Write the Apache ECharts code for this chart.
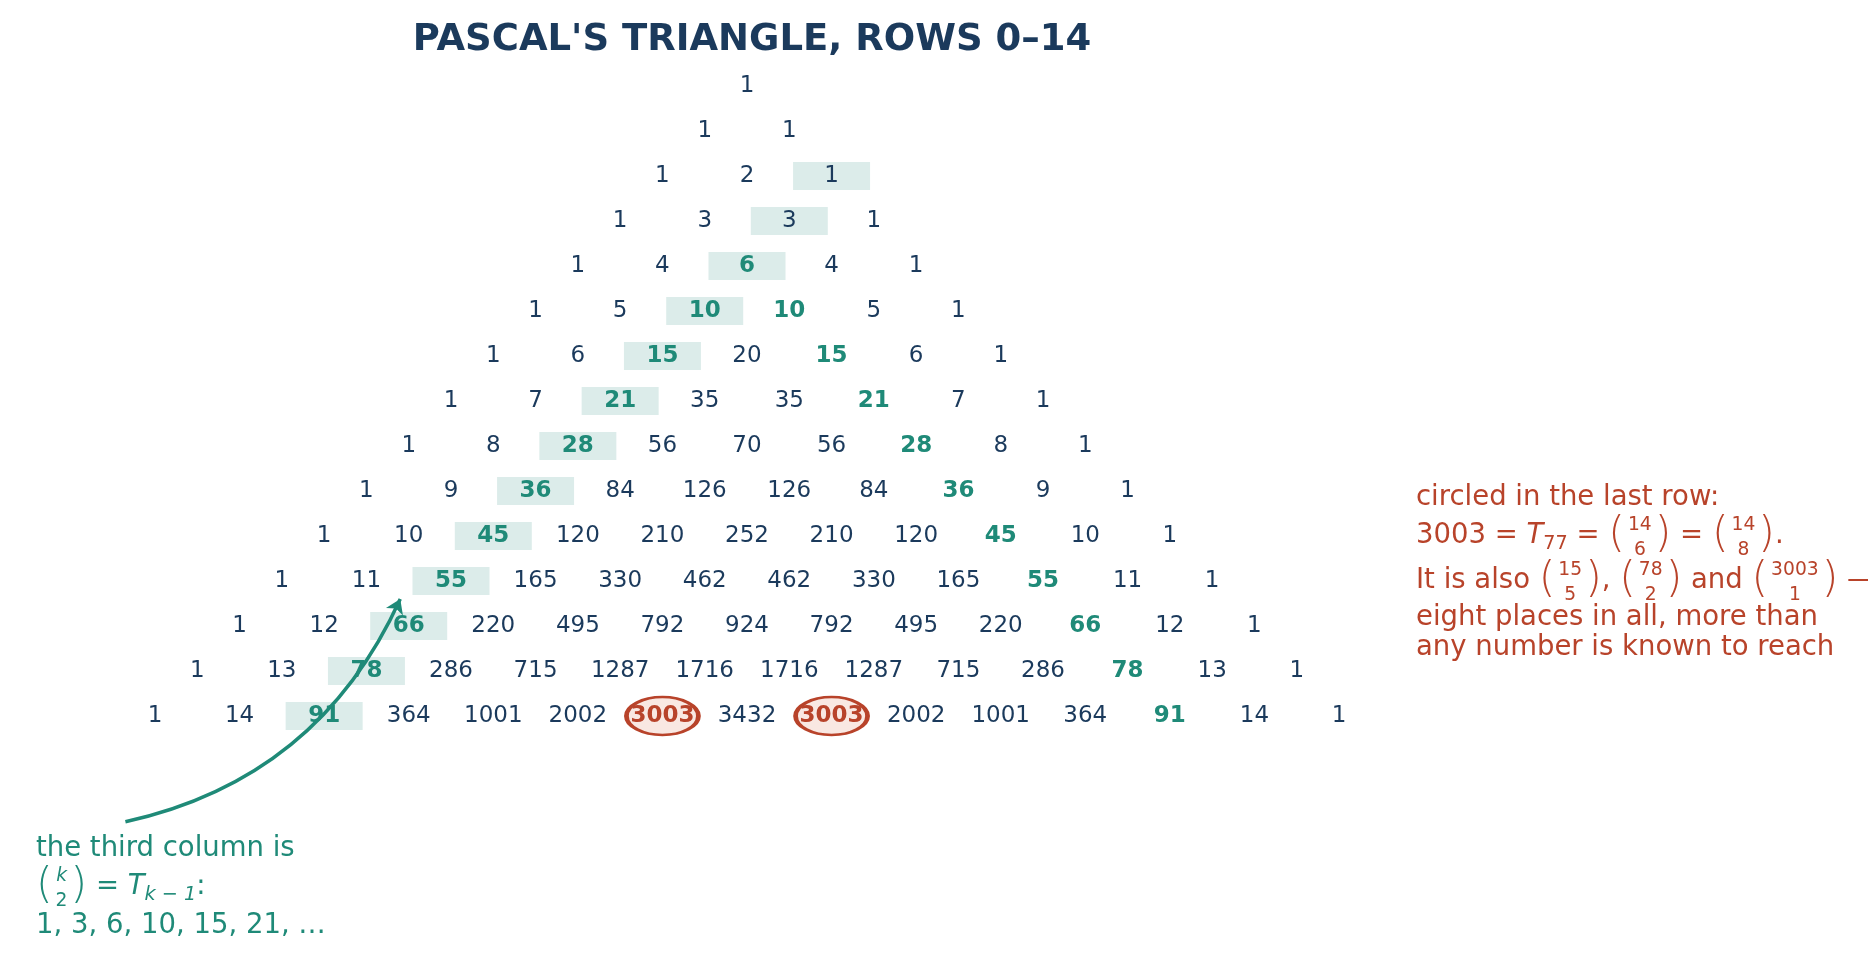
<!DOCTYPE html>
<html><head><meta charset="utf-8">
<script src="https://cdn.jsdelivr.net/npm/echarts@6/dist/echarts.min.js"></script>
<style>html,body{margin:0;padding:0;background:#fff}#c{width:1868px;height:959px}</style>
</head><body><div id="c"></div>
<script>
const rows = [
 [1],[1,1],[1,2,1],[1,3,3,1],[1,4,6,4,1],[1,5,10,10,5,1],[1,6,15,20,15,6,1],
 [1,7,21,35,35,21,7,1],[1,8,28,56,70,56,28,8,1],[1,9,36,84,126,126,84,36,9,1],
 [1,10,45,120,210,252,210,120,45,10,1],[1,11,55,165,330,462,462,330,165,55,11,1],
 [1,12,66,220,495,792,924,792,495,220,66,12,1],
 [1,13,78,286,715,1287,1716,1716,1287,715,286,78,13,1],
 [1,14,91,364,1001,2002,3003,3432,3003,2002,1001,364,91,14,1]
];
const circled = [[14,6],[14,8]];
const navy='#1b3a5c', teal='#1f8a78', red='#b8432a';
const FONT='DejaVu Sans';

const textData=[], boxData=[], ellData=[];
rows.forEach((row,r)=>row.forEach((v,j)=>{
  const x=2*j-r;
  let st='n';
  if (circled.some(c=>c[0]===r&&c[1]===j)) st='c';
  else if (r>=4 && (j===2||j===r-2)) st='t';
  textData.push([x,r,v,st]);
  if (r>=2 && j===2) boxData.push([x,r]);
}));
circled.forEach(c=>ellData.push([2*c[1]-c[0],c[0]]));

const chart=echarts.init(document.getElementById('c'));
const ctx=document.createElement('canvas').getContext('2d');
function mw(s,fs,italic){ctx.font=(italic?'italic ':'')+fs+'px "'+FONT+'"';return ctx.measureText(s).width;}
function line(els,x,cy,parts,fs,color){
  parts.forEach(p=>{
    if (typeof p==='string'){els.push({type:'text',x:x,y:cy,style:{text:p,font:fs+'px "'+FONT+'"',fill:color,verticalAlign:'middle',align:'left'}});x+=mw(p,fs);}
    else if (p.i){els.push({type:'text',x:x,y:cy,style:{text:p.i,font:'italic '+fs+'px "'+FONT+'"',fill:color,verticalAlign:'middle',align:'left'}});x+=mw(p.i,fs,true);}
    else if (p.sub){const s=fs*0.7;els.push({type:'text',x:x,y:cy+fs*0.3,style:{text:p.sub,font:(p.it?'italic ':'')+s+'px "'+FONT+'"',fill:color,verticalAlign:'middle',align:'left'}});x+=mw(p.sub,s,p.it);}
    else if (p.b){
      const s=fs*0.68, pf=fs*1.55;
      els.push({type:'text',x:x,y:cy,style:{text:'(',font:'lighter '+pf+'px "'+FONT+'"',fill:color,verticalAlign:'middle',align:'left'}});
      x+=mw('(',pf);
      const w=Math.max(mw(p.b[0],s),mw(p.b[1],s))+6;
      els.push({type:'text',x:x+w/2,y:cy-fs*0.38,style:{text:p.b[0],font:(p.it?'italic ':'')+s+'px "'+FONT+'"',fill:color,verticalAlign:'middle',align:'center'}});
      els.push({type:'text',x:x+w/2,y:cy+fs*0.5,style:{text:p.b[1],font:s+'px "'+FONT+'"',fill:color,verticalAlign:'middle',align:'center'}});
      x+=w;
      els.push({type:'text',x:x,y:cy,style:{text:')',font:'lighter '+pf+'px "'+FONT+'"',fill:color,verticalAlign:'middle',align:'left'}});
      x+=mw(')',pf);
    }
  });
}
const g=[];
const fsR=27.5, xR=1416;
line(g,xR,498,['circled in the last row:'],fsR,red);
line(g,xR,536,['3003 = ',{i:'T'},{sub:'77'},' = ',{b:['14','6']},' = ',{b:['14','8']},'.'],fsR,red);
line(g,xR,581,['It is also ',{b:['15','5']},', ',{b:['78','2']},' and ',{b:['3003','1']},' —'],fsR,red);
line(g,xR,618,['eight places in all, more than'],fsR,red);
line(g,xR,648,['any number is known to reach'],fsR,red);
const fsL=27.5, xL=36;
line(g,xL,849,['the third column is'],fsL,teal);
line(g,xL,887,[{b:['k','2'],it:true},' = ',{i:'T'},{sub:'k − 1',it:true},':'],fsL,teal);
line(g,xL,926,['1, 3, 6, 10, 15, 21, …'],fsL,teal);

chart.setOption({
  animation:false,
  title:{text:"PASCAL'S TRIANGLE, ROWS 0–14",left:747,textAlign:'center',top:17,textStyle:{fontFamily:FONT,fontSize:37,fontWeight:'bold',color:navy}},
  grid:{left:155,right:529,top:86,bottom:243},
  xAxis:{type:'value',min:-14,max:14,show:false},
  yAxis:{type:'value',min:0,max:14,inverse:true,show:false},
  graphic:g,
  series:[
    {type:'scatter',symbol:'rect',symbolSize:[77,28],itemStyle:{color:'#dcecea',opacity:1},data:boxData,z:1,silent:true},
    {type:'scatter',symbol:'circle',symbolSize:[72,38],itemStyle:{color:'#f9e8e2',borderColor:red,borderWidth:3.5,opacity:1},data:ellData,z:2,silent:true},
    {type:'lines',coordinateSystem:'cartesian2d',clip:false,z:5,symbol:['none','arrow'],symbolSize:14,
      lineStyle:{color:teal,width:3.5,curveness:-0.25,opacity:1},
      data:[{coords:[[-14.7,16.35],[-8.2,11.4]]}]},
    {type:'scatter',symbolSize:0,z:4,data:textData,itemStyle:{opacity:1},
      label:{show:true,position:'inside',fontFamily:FONT,fontSize:23,
        formatter:p=>{const s=p.data[3];return s==='n'?'{n|'+p.data[2]+'}':s==='t'?'{t|'+p.data[2]+'}':'{c|'+p.data[2]+'}';},
        rich:{n:{color:navy,fontSize:23,fontFamily:FONT},t:{color:teal,fontSize:23,fontWeight:'bold',fontFamily:FONT},c:{color:red,fontSize:23,fontWeight:'bold',fontFamily:FONT}}}}
  ]
});
</script></body></html>
